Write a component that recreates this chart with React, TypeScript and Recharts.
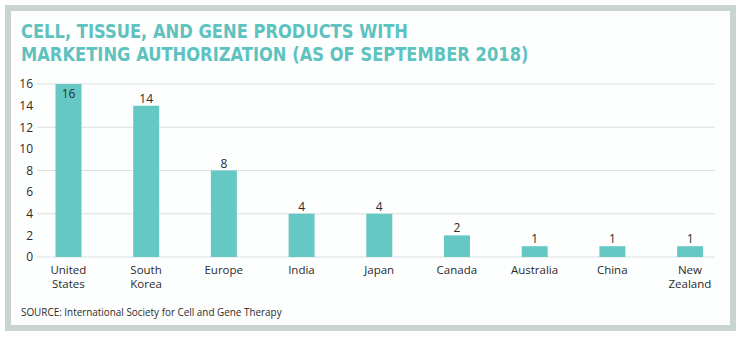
import { Bar, BarChart, CartesianGrid, LabelList, XAxis, YAxis } from 'recharts';

const countries = ['United States', 'South Korea', 'Europe', 'India', 'Japan', 'Canada', 'Australia', 'China', 'New Zealand'];
const products = [16, 14, 8, 4, 4, 2, 1, 1, 1];
const yTicks = [0, 2, 4, 6, 8, 10, 12, 14, 16];

const data = countries.map((country, i) => ({ country, products: products[i] }));

const TEAL = '#66c8c5';
const TITLE = '#5ec2bf';
const TEXT = '#2b2b2b';
const FONT = '"DejaVu Sans Condensed", "DejaVu Sans", sans-serif';
const TICK_FONT = '"Open Sans", "Liberation Sans", sans-serif';

const CountryTick = (props: any) => {
  const { x, y, payload } = props;
  const words: string[] = payload.value.split(' ');
  return (
    <text x={x} y={y} textAnchor="middle" fill={TEXT} fontSize={11.5} fontFamily={TICK_FONT}>
      {words.map((w, i) => (
        <tspan key={i} x={x} dy={i === 0 ? 17 : 13.5}>
          {w}
        </tspan>
      ))}
    </text>
  );
};

const ValueLabel = (props: any) => {
  const { x, y, width, value } = props;
  // the tallest bar touches the top of the plot, so its label sits inside it
  const inside = y < 90;
  return (
    <text
      x={x + width / 2}
      y={inside ? y + 14 : y - 3}
      textAnchor="middle"
      fill={TEXT}
      fontSize={12}
      fontFamily={TICK_FONT}
    >
      {value}
    </text>
  );
};

export default function App() {
  return (
    <div style={{ position: 'fixed', left: 0, top: 0, width: 743, height: 337, background: '#ffffff' }}>
      <div
        style={{
          position: 'absolute',
          left: 5,
          top: 5,
          width: 731,
          height: 326,
          boxSizing: 'border-box',
          border: '6px solid #c9d3cf',
          background: '#fdfefe',
        }}
      />
      <div
        style={{
          position: 'absolute',
          left: 21,
          top: 20,
          color: TITLE,
          fontFamily: FONT,
          fontWeight: 700,
          fontSize: 19.5,
          lineHeight: '23px',
          whiteSpace: 'nowrap',
          transform: 'scaleX(0.93)',
          transformOrigin: 'left top',
        }}
      >
        CELL, TISSUE, AND GENE PRODUCTS WITH
        <br />
        MARKETING AUTHORIZATION (AS OF SEPTEMBER 2018)
      </div>
      <div style={{ position: 'absolute', left: 0, top: 0 }}>
        <BarChart width={743} height={337} data={data} margin={{ top: 84, right: 28, bottom: 40, left: 0 }}>
          <CartesianGrid vertical={false} stroke="#dcdfdf" />
          <XAxis
            dataKey="country"
            axisLine={false}
            tickLine={false}
            tickSize={0}
            tickMargin={0}
            height={40}
            interval={0}
            padding={{ left: -7.5, right: -13.8 }}
            tick={<CountryTick />}
          />
          <YAxis
            width={37}
            domain={[0, 16]}
            ticks={yTicks}
            axisLine={false}
            tickLine={false}
            tickSize={0}
            tickMargin={4}
            tick={{ fill: TEXT, fontSize: 12, fontFamily: TICK_FONT }}
          />
          <Bar dataKey="products" fill={TEAL} barSize={26} isAnimationActive={false}>
            <LabelList dataKey="products" content={<ValueLabel />} />
          </Bar>
        </BarChart>
      </div>
      <div
        style={{
          position: 'absolute',
          left: 21,
          top: 304,
          color: TEXT,
          fontFamily: TICK_FONT,
          fontSize: 11.5,
          whiteSpace: 'nowrap',
          transform: 'scaleX(0.86)',
          transformOrigin: 'left top',
        }}
      >
        SOURCE: International Society for Cell and Gene Therapy
      </div>
    </div>
  );
}
